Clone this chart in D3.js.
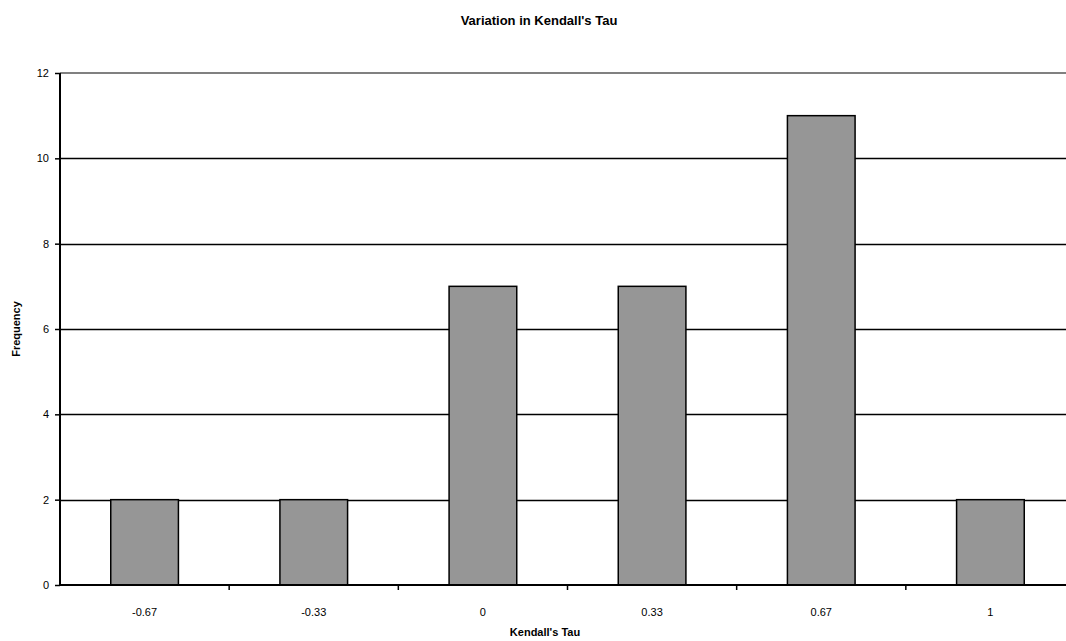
<!DOCTYPE html>
<html>
<head>
<meta charset="utf-8">
<script src="https://cdn.jsdelivr.net/npm/d3@7"></script>
<style>
  html, body { margin: 0; padding: 0; background: #fff; }
  svg { display: block; font-family: "Liberation Sans", Arial, sans-serif; }
</style>
</head>
<body>
<svg id="chart" width="1066" height="641"></svg>
<script>
// Frequency of Kendall's tau values
const categories = ["-0.67", "-0.33", "0", "0.33", "0.67", "1"];
const frequency = [2, 2, 7, 7, 11, 2];
const yTicks = [0, 2, 4, 6, 8, 10, 12];

const svg = d3.select("#chart");
const plotLeft = 60, plotTop = 73, plotBottom = 585, plotRight = 1075;

const x = d3.scaleBand().domain(categories).range([plotLeft, plotRight]).paddingInner(0).paddingOuter(0);
const y = d3.scaleLinear().domain([0, 12]).range([plotBottom, plotTop]);

const barW = x.bandwidth() / 2.5;

// Horizontal gridlines
svg.append("g").selectAll("line")
  .data(yTicks.filter(d => d > 0 && d < 12))
  .join("line")
  .attr("x1", plotLeft).attr("x2", 1066)
  .attr("y1", d => Math.round(y(d)) + 0.5).attr("y2", d => Math.round(y(d)) + 0.5)
  .attr("stroke", "#000").attr("stroke-width", 1.3);

// Top border of the plot area
svg.append("line")
  .attr("x1", plotLeft).attr("x2", 1066)
  .attr("y1", y(12)).attr("y2", y(12))
  .attr("stroke", "#808080").attr("stroke-width", 2);

// Bars
svg.append("g").selectAll("rect")
  .data(categories.map((c, i) => ({c, v: frequency[i]})))
  .join("rect")
  .attr("x", d => x(d.c) + (x.bandwidth() - barW) / 2)
  .attr("y", d => y(d.v))
  .attr("width", barW)
  .attr("height", d => y(0) - y(d.v))
  .attr("fill", "#969696")
  .attr("stroke", "#000")
  .attr("stroke-width", 1.5);

// Y axis
const yAxis = d3.axisLeft(y).tickValues(yTicks).tickSize(5).tickPadding(6).tickFormat(d3.format("d"));
const gy = svg.append("g").attr("transform", `translate(${plotLeft},0)`).call(yAxis);
gy.select(".domain").attr("stroke-width", 2).attr("d", `M0,${plotTop}V${plotBottom}`);
gy.selectAll(".tick line").attr("stroke-width", 1.5);
gy.selectAll("text").attr("font-size", 11).attr("fill", "#000")
  .attr("font-family", "'Liberation Sans', Arial, sans-serif");

// X axis: baseline plus ticks on category boundaries
svg.append("line")
  .attr("x1", plotLeft).attr("x2", 1066)
  .attr("y1", plotBottom).attr("y2", plotBottom)
  .attr("stroke", "#000").attr("stroke-width", 2);

svg.append("g").selectAll("line")
  .data(categories.slice(1))
  .join("line")
  .attr("x1", d => x(d)).attr("x2", d => x(d))
  .attr("y1", plotBottom).attr("y2", plotBottom + 5)
  .attr("stroke", "#000").attr("stroke-width", 1.5);

svg.append("g").selectAll("text")
  .data(categories)
  .join("text")
  .attr("x", d => x(d) + x.bandwidth() / 2)
  .attr("y", 616)
  .attr("text-anchor", "middle")
  .attr("font-size", 11)
  .text(d => d);

// Titles
svg.append("text")
  .attr("x", 539).attr("y", 25)
  .attr("text-anchor", "middle")
  .attr("font-size", 13).attr("font-weight", "bold")
  .text("Variation in Kendall's Tau");

svg.append("text")
  .attr("x", 545).attr("y", 636)
  .attr("text-anchor", "middle")
  .attr("font-size", 11).attr("font-weight", "bold")
  .text("Kendall's Tau");

svg.append("text")
  .attr("transform", "translate(20,329) rotate(-90)")
  .attr("text-anchor", "middle")
  .attr("font-size", 11).attr("font-weight", "bold")
  .text("Frequency");
</script>
</body>
</html>
